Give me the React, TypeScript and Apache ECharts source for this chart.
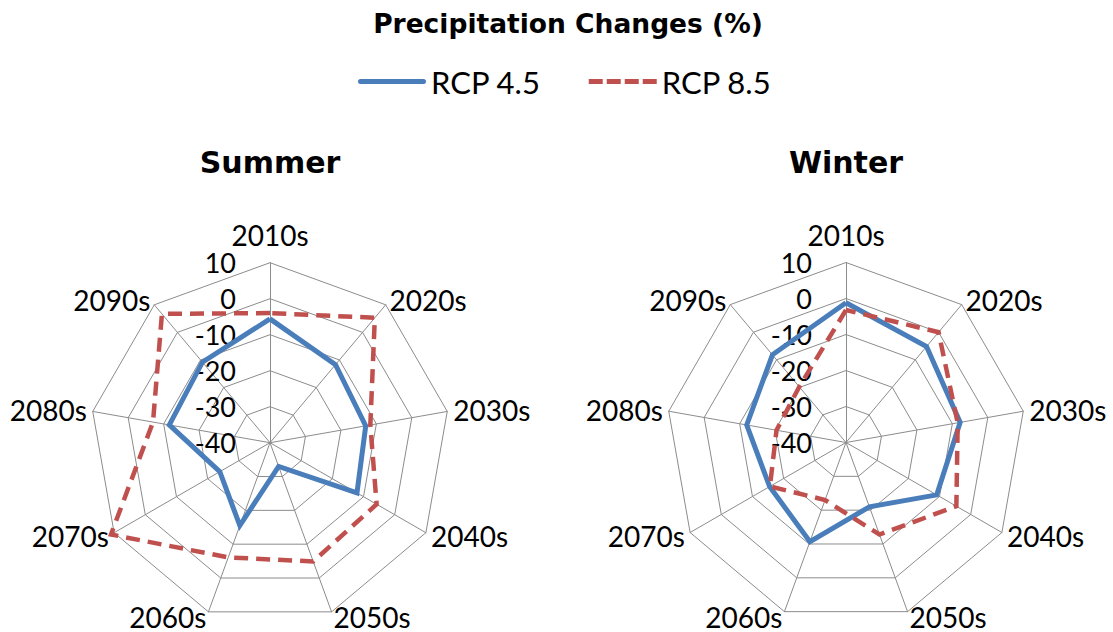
import React, { useEffect, useRef } from 'react';
import * as echarts from 'echarts';

// ---- data ----
const periods = ['2010s', '2020s', '2030s', '2040s', '2050s', '2060s', '2070s', '2080s', '2090s'];
const seriesNames = ['RCP 4.5', 'RCP 8.5'];
const summerRcp45 = [-5.6, -11.7, -13, -12.1, -33, -15.5, -23.9, -11.6, -10.8];
const summerRcp85 = [-4, 5.3, -11.7, -5.8, -4.9, -6.1, 11, -7, 6.7];
const winterRcp45 = [-1.2, -5.2, -7.8, -10.9, -21, -10.7, -15.5, -12, -8.2];
const winterRcp85 = [-3.2, 0, -8.5, -4.6, -12.8, -23, -15.6, -20.4, -19.8];
const axisMin = -40;
const axisMax = 10;
const axisSplits = 5;

const BLUE = '#4a7ebb';
const RED = '#c0504d';
const GRID = '#8c8c8c';

// ECharts places radar indicators counter-clockwise; reorder so they run clockwise
const clockwise = <T,>(arr: T[]): T[] => [arr[0], ...arr.slice(1).reverse()];

const makeRadar = (cx: number, cy: number) => ({
  center: [cx, cy],
  radius: 180,
  startAngle: 90,
  splitNumber: axisSplits,
  shape: 'polygon',
  nameGap: 6,
  indicator: clockwise(periods).map((name, i) =>
    i === 0
      ? { name, min: axisMin, max: axisMax }
      : { name, min: axisMin, max: axisMax, axisLabel: { show: false } }
  ),
  axisName: { color: '#000', fontFamily: 'Lato', fontSize: 28 },
  axisLine: { show: true, lineStyle: { color: GRID, width: 1 } },
  axisTick: { show: false },
  axisLabel: { show: true, color: '#000', fontFamily: 'Lato', fontSize: 27, margin: 34 },
  splitLine: { show: true, lineStyle: { color: GRID, width: 1 } },
  splitArea: { show: false },
});

const makeSeries = (radarIndex: number, v45: number[], v85: number[]) => ({
  type: 'radar',
  radarIndex,
  symbol: 'none',
  data: [
    {
      name: seriesNames[0],
      value: clockwise(v45),
      itemStyle: { color: BLUE },
      lineStyle: { color: BLUE, width: 5, type: 'solid', join: 'miter' },
    },
    {
      name: seriesNames[1],
      value: clockwise(v85),
      itemStyle: { color: RED },
      lineStyle: { color: RED, width: 4.5, type: [14, 8], join: 'miter' },
    },
  ],
});

const solidIcon = 'path://M2.5,0H65.5A2.5,2.5,0,0,1,65.5,5H2.5A2.5,2.5,0,0,1,2.5,0Z';
const dashIcon = 'path://M0,0h14v5h-14z M18,0h14v5h-14z M36,0h14v5h-14z M54,0h14v5h-14z';

export default function App() {
  const ref = useRef<HTMLDivElement>(null);
  useEffect(() => {
    if (!ref.current) return;
    const chart = echarts.init(ref.current, null, { renderer: 'svg' });
    chart.setOption({
      animation: false,
      backgroundColor: '#fff',
      title: [
        {
          text: 'Precipitation Changes (%)',
          left: 563,
          top: 5,
          textAlign: 'center',
          textStyle: { fontFamily: 'DejaVu Sans', fontWeight: 'bold', fontSize: 26.5, color: '#000' },
        },
        {
          text: 'Summer',
          left: 265,
          top: 142,
          textAlign: 'center',
          textStyle: { fontFamily: 'DejaVu Sans', fontWeight: 'bold', fontSize: 30, color: '#000' },
        },
        {
          text: 'Winter',
          left: 841,
          top: 142,
          textAlign: 'center',
          textStyle: { fontFamily: 'DejaVu Sans', fontWeight: 'bold', fontSize: 30, color: '#000' },
        },
      ],
      legend: {
        left: 358,
        top: 66,
        padding: 0,
        itemWidth: 68,
        itemHeight: 5,
        itemGap: 48,
        data: [
          { name: seriesNames[0], icon: solidIcon },
          { name: seriesNames[1], icon: dashIcon },
        ],
        textStyle: { fontFamily: 'Lato', fontSize: 31, color: '#000' },
      },
      radar: [makeRadar(270, 442.7), makeRadar(846, 442.5)],
      series: [makeSeries(0, summerRcp45, summerRcp85), makeSeries(1, winterRcp45, winterRcp85)],
    });
    return () => chart.dispose();
  }, []);
  return (
    <div
      ref={ref}
      style={{ position: 'absolute', left: 0, top: 0, width: 1113, height: 632, background: '#fff' }}
    />
  );
}
